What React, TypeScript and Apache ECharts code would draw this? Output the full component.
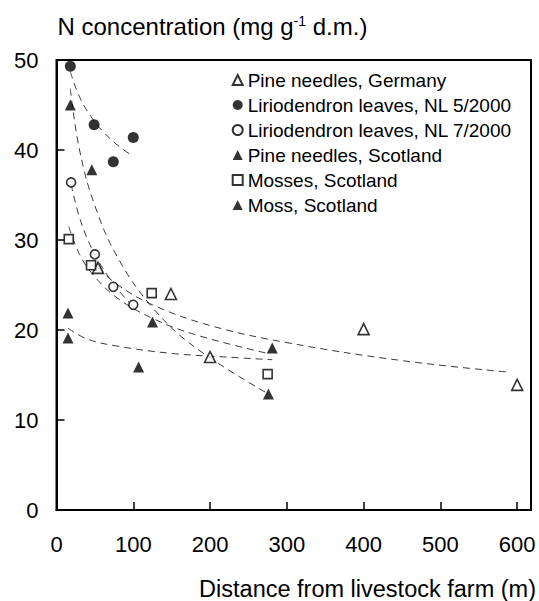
import React, { useEffect, useRef } from "react";
import * as echarts from "echarts";

const FONT = "'Liberation Sans', Arial, Helvetica, sans-serif";

// Legend / series names
const seriesNames = [
  "Pine needles, Germany",
  "Liriodendron leaves, NL 5/2000",
  "Liriodendron leaves, NL 7/2000",
  "Pine needles, Scotland",
  "Mosses, Scotland",
  "Moss, Scotland",
];

// Axis ticks
const xTicks = [0, 100, 200, 300, 400, 500, 600];
const yTicks = [0, 10, 20, 30, 40, 50];

// Measured points (distance m, N mg/g)
const germanyX = [54, 149, 200, 400, 600];
const germanyY = [26.9, 24.0, 17.0, 20.1, 13.9];

const lirio5X = [18, 49, 74, 100];
const lirio5Y = [49.3, 42.8, 38.7, 41.4];

const lirio7X = [19, 50, 74, 100];
const lirio7Y = [36.4, 28.4, 24.8, 22.8];

const pineScotX = [18, 46, 125, 276];
const pineScotY = [45.0, 37.8, 20.9, 12.9];

const mossesScotX = [16, 45, 124, 275];
const mossesScotY = [30.1, 27.2, 24.1, 15.1];

const mossScotX = [15, 15, 107, 281];
const mossScotY = [21.9, 19.1, 15.9, 18.0];

// Dashed trend curves
const fitGermanyX = [54, 80, 125, 200, 300, 450, 591];
const fitGermanyY = [26.9, 25.0, 22.8, 20.5, 18.6, 16.6, 15.3];

const fitLirio5X = [18, 30, 45, 60, 80, 100];
const fitLirio5Y = [48.7, 45.9, 43.7, 42.1, 40.5, 39.3];

const fitLirio7X = [19, 30, 45, 60, 80, 100];
const fitLirio7Y = [36.2, 32.5, 29.2, 26.9, 24.5, 22.6];

const fitPineScotX = [18, 30, 50, 80, 125, 180, 276];
const fitPineScotY = [46.8, 40.0, 33.8, 28.0, 22.5, 18.1, 12.9];

const fitMossesScotX = [16, 30, 50, 80, 125, 180, 275];
const fitMossesScotY = [31.5, 28.4, 25.9, 23.5, 21.3, 19.5, 17.4];

const fitMossScotX = [15, 40, 80, 150, 220, 281];
const fitMossScotY = [20.2, 19.0, 18.2, 17.4, 17.0, 16.7];

const zip = (xs: number[], ys: number[]) => xs.map((x, i) => [x, ys[i]]);

const pointSets = [
  { x: germanyX, y: germanyY, symbol: "triangle", size: 11, open: true },
  { x: lirio5X, y: lirio5Y, symbol: "circle", size: 11, open: false },
  { x: lirio7X, y: lirio7Y, symbol: "circle", size: 9, open: true },
  { x: pineScotX, y: pineScotY, symbol: "triangle", size: 11, open: false },
  { x: mossesScotX, y: mossesScotY, symbol: "rect", size: 9, open: true },
  { x: mossScotX, y: mossScotY, symbol: "triangle", size: 11, open: false },
];

const fitSets = [
  { x: fitGermanyX, y: fitGermanyY },
  { x: fitLirio5X, y: fitLirio5Y },
  { x: fitLirio7X, y: fitLirio7Y },
  { x: fitPineScotX, y: fitPineScotY },
  { x: fitMossesScotX, y: fitMossesScotY },
  { x: fitMossScotX, y: fitMossScotY },
];

export default function App() {
  const ref = useRef<HTMLDivElement>(null);

  useEffect(() => {
    if (!ref.current) return;
    const chart = echarts.init(ref.current, undefined, { renderer: "svg" });

    const fitSeries = fitSets.map((f, i) => ({
      name: "fit-" + i,
      type: "line",
      data: zip(f.x, f.y),
      smooth: 0.4,
      showSymbol: false,
      symbol: "none",
      silent: true,
      z: 1,
      lineStyle: { color: "#3a3a3a", width: 1, type: [7, 5] },
    }));

    const scatterSeries = pointSets.map((p, i) => ({
      name: seriesNames[i],
      type: "scatter",
      data: zip(p.x, p.y),
      symbol: p.symbol,
      symbolSize: p.size,
      z: 3,
      itemStyle: p.open
        ? { color: "#ffffff", borderColor: "#000000", borderWidth: 1.6 }
        : { color: "#000000", borderColor: "#000000", borderWidth: 0 },
    }));

    const option = {
      animation: false,
      backgroundColor: "#ffffff",
      grid: {
        left: 56.5,
        right: 8,
        top: 60,
        bottom: 91,
        show: true,
        borderColor: "#000",
        borderWidth: 2,
        backgroundColor: "transparent",
      },
      xAxis: {
        type: "value",
        min: xTicks[0],
        max: 618,
        interval: 100,
        axisLine: { show: true, onZero: false, lineStyle: { color: "#000", width: 2 } },
        axisTick: { show: true, inside: true, length: 8, lineStyle: { color: "#000", width: 1.5 } },
        axisLabel: {
          showMaxLabel: false,
          color: "#000",
          fontSize: 22,
          fontFamily: FONT,
          margin: 23,
          formatter: (v: number) => (xTicks.includes(v) ? String(v) : ""),
        },
        splitLine: { show: false },
      },
      yAxis: {
        type: "value",
        min: yTicks[0],
        max: yTicks[yTicks.length - 1],
        interval: 10,
        axisLine: { show: true, onZero: false, lineStyle: { color: "#000", width: 2 } },
        axisTick: { show: true, inside: true, length: 8, lineStyle: { color: "#000", width: 1.5 } },
        axisLabel: {
          color: "#000",
          fontSize: 22,
          fontFamily: FONT,
          margin: 18,
        },
        splitLine: { show: false },
      },
      legend: {
        data: seriesNames,
        orient: "vertical",
        left: 231.7,
        top: 70,
        padding: 0,
        itemWidth: 10,
        itemHeight: 10,
        itemGap: 5,
        selectedMode: false,
        textStyle: { color: "#000", fontSize: 19, fontFamily: FONT, lineHeight: 20 },
      },
      graphic: [
        {
          type: "text",
          x: 57.5,
          y: 26,
          style: {
            text: "{a|N concentration (mg g}{s|-1}{a| d.m.)}",
            align: "left",
            textAlign: "left",
            verticalAlign: "middle",
            textVerticalAlign: "middle",
            rich: {
              a: { fontSize: 24, fontFamily: FONT, fill: "#000", color: "#000" },
              s: { fontSize: 14, fontFamily: FONT, fill: "#000", color: "#000", verticalAlign: "top" },
            },
          },
        },
        {
          type: "text",
          x: 536,
          y: 589,
          style: {
            text: "Distance from livestock farm (m)",
            font: "23.5px " + FONT,
            fontSize: 23.5,
            fontFamily: FONT,
            fill: "#000",
            align: "right",
            textAlign: "right",
            verticalAlign: "middle",
            textVerticalAlign: "middle",
          },
        },
      ],
      series: [...fitSeries, ...scatterSeries],
    };

    chart.setOption(option as any);
    return () => chart.dispose();
  }, []);

  return (
    <div
      ref={ref}
      style={{ position: "absolute", left: 0, top: 0, width: 539, height: 601 }}
    />
  );
}
